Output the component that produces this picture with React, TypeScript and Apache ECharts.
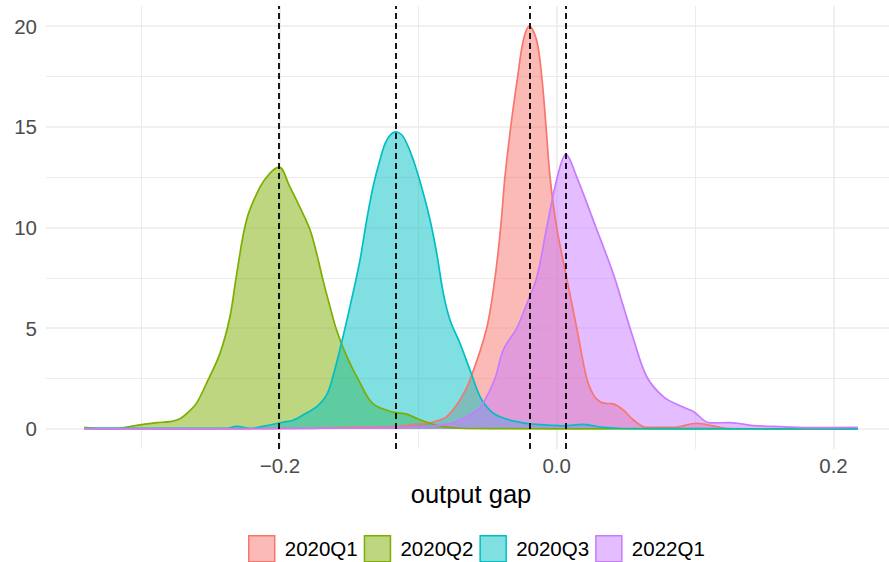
import React, { useEffect, useRef } from "react";
import * as echarts from "echarts";

const groups = ["2020Q1", "2020Q2", "2020Q3", "2022Q1"];
const colors = ["#F8766D", "#7CAE00", "#00BFC4", "#C77CFF"];

// 2020Q1 density
const q1X = [-0.3413, -0.26, -0.1855, -0.1494, -0.1205, -0.0988, -0.0915, -0.0795, -0.0699, -0.0627, -0.0506, -0.0446, -0.0405, -0.0374, -0.0332, -0.0282, -0.0241, -0.0198, -0.0145, -0.0108, -0.0077, -0.0048, 0.0, 0.0072, 0.0145, 0.0217, 0.0264, 0.0313, 0.0356, 0.0409, 0.0481, 0.0553, 0.065, 0.084, 0.1012, 0.1129, 0.1252, 0.17, 0.2175];
const q1Y = [0.0, 0.0, 0.02, 0.08, 0.1, 0.25, 0.3, 0.61, 1.44, 2.43, 5.0, 7.5, 10.0, 12.5, 15.0, 17.5, 19.3, 20.0, 19.3, 17.5, 15.0, 12.5, 10.0, 7.5, 5.0, 2.5, 1.7, 1.35, 1.27, 1.24, 0.94, 0.45, 0.07, 0.07, 0.28, 0.15, 0.01, 0.0, 0.0];

// 2020Q2 density
const q2X = [-0.3413, -0.33, -0.3155, -0.3011, -0.289, -0.2794, -0.2722, -0.265, -0.2601, -0.2529, -0.2433, -0.2361, -0.2312, -0.224, -0.2144, -0.2071, -0.2006, -0.1927, -0.1855, -0.1783, -0.1734, -0.1689, -0.1638, -0.159, -0.1517, -0.1421, -0.1327, -0.1183, -0.1084, -0.0988, -0.0894, -0.0822, -0.0699, -0.041, 0.05, 0.13, 0.2175];
const q2Y = [0.07, 0.02, 0.04, 0.2, 0.31, 0.36, 0.5, 0.9, 1.29, 2.28, 3.75, 5.57, 7.7, 10.4, 12.0, 12.7, 13.0, 12.0, 11.0, 9.9, 8.7, 7.4, 6.07, 4.9, 3.6, 2.28, 1.25, 0.83, 0.73, 0.45, 0.23, 0.11, 0.03, 0.01, 0.0, 0.0, 0.0];

// 2020Q3 density
const q3X = [-0.3413, -0.2577, -0.2384, -0.2312, -0.2216, -0.205, -0.1978, -0.1905, -0.1806, -0.1734, -0.1662, -0.1617, -0.1544, -0.1472, -0.1421, -0.1373, -0.1327, -0.1277, -0.1228, -0.1163, -0.1108, -0.1036, -0.0964, -0.0915, -0.0867, -0.0819, -0.0771, -0.0699, -0.0627, -0.0554, -0.0506, -0.046, -0.041, -0.0316, -0.0193, -0.0048, 0.0046, 0.019, 0.0335, 0.0457, 0.1035, 0.2175];
const q3Y = [0.02, 0.02, 0.03, 0.12, 0.03, 0.23, 0.33, 0.43, 0.8, 1.1, 1.69, 2.6, 4.58, 6.74, 8.39, 10.37, 12.02, 13.35, 14.34, 14.75, 14.5, 13.35, 11.7, 10.37, 8.72, 6.73, 5.41, 4.25, 2.93, 1.6, 1.1, 0.79, 0.6, 0.4, 0.25, 0.18, 0.15, 0.22, 0.07, 0.03, 0.01, 0.0];

// 2022Q1 density
const q4X = [-0.3413, -0.1855, -0.1277, -0.0988, -0.0843, -0.0749, -0.065, -0.0578, -0.053, -0.0446, -0.0386, -0.0289, -0.0217, -0.0145, -0.0072, 0.0004, 0.0067, 0.0145, 0.0284, 0.0409, 0.0481, 0.0553, 0.065, 0.077, 0.0891, 0.0987, 0.1108, 0.1252, 0.1421, 0.1614, 0.1854, 0.2175];
const q4Y = [0.01, 0.02, 0.05, 0.1, 0.18, 0.3, 0.6, 0.9, 1.29, 2.5, 3.92, 5.0, 6.2, 7.5, 10.0, 12.5, 13.63, 12.5, 10.0, 7.7, 6.1, 4.5, 2.6, 1.6, 1.15, 0.86, 0.3, 0.31, 0.16, 0.11, 0.06, 0.07];

const seriesX = [q1X, q2X, q3X, q4X];
const seriesY = [q1Y, q2Y, q3Y, q4Y];

// dashed reference lines
const vlines = [-0.2009, -0.1166, -0.0195, 0.0067];

// ticks / grid
const xTicks = [-0.2, 0, 0.2];
const xMinor = [-0.3, -0.1, 0.1];
const yTicks = [0, 5, 10, 15, 20];
const yMinor = [2.5, 7.5, 12.5, 17.5];

const FONT = "'Liberation Sans', Arial, Helvetica, sans-serif";

function hexToRgba(hex: string, a: number) {
  const r = parseInt(hex.slice(1, 3), 16);
  const g = parseInt(hex.slice(3, 5), 16);
  const b = parseInt(hex.slice(5, 7), 16);
  return `rgba(${r},${g},${b},${a})`;
}

export default function App() {
  const ref = useRef<HTMLDivElement>(null);
  useEffect(() => {
    if (!ref.current) return;
    const chart = echarts.init(ref.current, null, { renderer: "svg" });
    const gridColor = "#EBEBEB";
    const gridLines = [
      ...xTicks.map((v) => ({ xAxis: v, lineStyle: { color: gridColor, width: 1.6, type: "solid" } })),
      ...xMinor.map((v) => ({ xAxis: v, lineStyle: { color: gridColor, width: 1.0, type: "solid" } })),
      ...yTicks.map((v) => ({ yAxis: v, lineStyle: { color: gridColor, width: 1.6, type: "solid" } })),
      ...yMinor.map((v) => ({ yAxis: v, lineStyle: { color: gridColor, width: 1.0, type: "solid" } })),
    ];
    const series: any[] = groups.map((g, i) => {
      const s: any = {
        type: "line",
        name: g,
        data: seriesX[i].map((x, j) => [x, seriesY[i][j]]),
        smooth: 0.35,
        symbol: "none",
        z: 2,
        lineStyle: { color: colors[i], width: 1.7 },
        itemStyle: { color: colors[i] },
        areaStyle: { color: colors[i], opacity: 0.5 },
      };
      if (i === 0) {
        s.markLine = {
          silent: true,
          symbol: ["none", "none"],
          precision: 4,
          z: 1,
          animation: false,
          label: { show: false },
          data: gridLines,
        };
      }
      if (i === groups.length - 1) {
        s.markLine = {
          silent: true,
          symbol: ["none", "none"],
          precision: 4,
          z: 5,
          animation: false,
          label: { show: false },
          lineStyle: { color: "#000", width: 1.8, type: [6, 4] },
          data: vlines.map((v) => ({ xAxis: v })),
        };
      }
      return s;
    });

    chart.setOption({
      animation: false,
      backgroundColor: "#fff",
      textStyle: { fontFamily: FONT },
      grid: { left: 46, top: 6, width: 843, height: 443, containLabel: false },
      xAxis: {
        type: "value",
        min: -0.369,
        max: 0.2401,
        splitLine: { show: false },
        axisLine: { show: false },
        axisTick: { show: false },
        axisLabel: {
          customValues: xTicks,
          color: "#4D4D4D",
          fontSize: 20.5,
          fontFamily: FONT,
          margin: 6,
          formatter: (v: number) => v.toFixed(1).replace("-", "\u2212"),
        },
      },
      yAxis: {
        type: "value",
        min: -1,
        max: 21,
        splitLine: { show: false },
        axisLine: { show: false },
        axisTick: { show: false },
        axisLabel: {
          customValues: yTicks,
          color: "#4D4D4D",
          fontSize: 20.5,
          fontFamily: FONT,
          margin: 9,
          formatter: (v: number) => String(v),
        },
      },
      legend: {
        left: 248,
        top: 535,
        padding: 0,
        itemWidth: 26,
        itemHeight: 26,
        itemGap: 6,
        icon: "rect",
        data: groups.map((g, i) => ({
          name: g,
          icon: "rect",
          itemStyle: { color: hexToRgba(colors[i], 0.5), borderColor: colors[i], borderWidth: 1.5, opacity: 1 },
        })),
        textStyle: { fontSize: 20.5, color: "#000", fontFamily: FONT, padding: [0, 0, 0, 5] },
      },
      graphic: [
        {
          type: "text",
          x: 471,
          y: 494,
          style: {
            text: "output gap",
            fontSize: 25.5,
            fontFamily: FONT,
            fill: "#000",
            align: "center",
            verticalAlign: "middle",
            textAlign: "center",
            textVerticalAlign: "middle",
          },
        },
      ],
      series,
    });
    return () => chart.dispose();
  }, []);
  return (
    <div
      ref={ref}
      style={{ position: "absolute", left: 0, top: 0, width: 889, height: 562 }}
    />
  );
}
